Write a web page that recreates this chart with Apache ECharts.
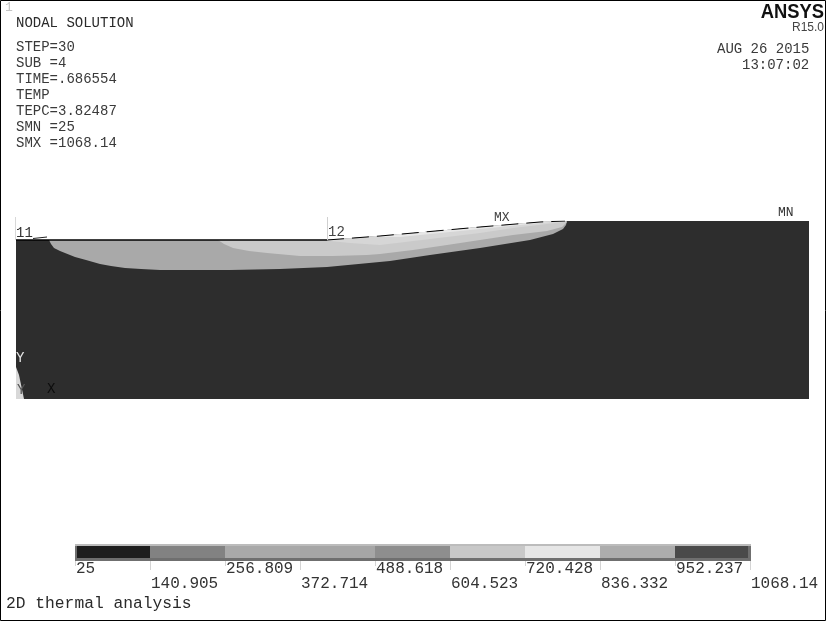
<!DOCTYPE html>
<html><head><meta charset="utf-8">
<style>html,body{margin:0;padding:0;background:#fff}#c{width:826px;height:621px}</style>
<script src="https://cdn.jsdelivr.net/npm/echarts@6/dist/echarts.min.js"></script>
</head><body><div id="c"></div>
<script>
// Model-space outlines of the temperature contour zones (x along the plate, y up from base)
const domainOutline = [[0,159],[311,159],[364,163],[464,172],[524,177],[549,178],[793,178],[793,0],[0,0]];
const zoneLow = [[33,159],[35,155],[38,151],[44,148],[59,142],[70,139],[84,135],[95,133],[109,131],[125,130],[144,129],[180,129],[214,129],[264,130],[311,132],[374,138],[414,144],[464,151],[514,159],[537,165],[547,170],[550,174],[551,178],[549,178],[524,177],[464,172],[364,163],[311,159]];
const zoneMid = [[202,159],[208,155],[217,151],[233,148],[251,146],[284,143],[317,143],[351,144],[364,145],[397,149],[431,154],[464,159],[497,164],[531,168],[546,172],[551,177],[549,178],[524,177],[464,172],[364,163],[311,159]];
const zoneHigh = [[304,159],[334,156],[364,154],[414,160],[464,166],[497,171],[531,175],[549,177],[549,178],[524,177],[464,172],[364,163],[311,159]];
const zoneTop = [[354,162],[384,162],[424,166],[464,170],[504,174],[534,177],[547,178],[524,177],[464,172],[364,163]];
const zoneEdge = [[0,32],[3,24],[8,0],[0,0]];
const flatSurface = [[0,159],[311,159]];
const slopedSurface = [[311,159],[364,163],[464,172],[524,177],[549,178]];
const zones = [domainOutline, zoneLow, zoneMid, zoneHigh, zoneTop, zoneEdge];
const zoneColors = ['#2d2d2d','#a9a9a9','#cacaca','#d6d6d6','#e8e8e8','#d8d8d8'];

const tickValues = [25,140.905,256.809,372.714,488.618,604.523,720.428,836.332,952.237,1068.14];
const tickLabels = ['25','140.905','256.809','372.714','488.618','604.523','720.428','836.332','952.237','1068.14'];
const bandColors = ['#1e1e1e','#828282','#a9a9a9','#a6a6a6','#8e8e8e','#c8c8c8','#e6e6e6','#adadad','#4a4a4a'];

const infoLines = ['STEP=30','SUB =4','TIME=.686554','TEMP','TEPC=3.82487','SMN =25','SMX =1068.14'];

const mono = '"Liberation Mono", monospace';
function txt(x, y, s, o) {
  o = o || {};
  return {type:'text', x, y, silent:true, z:10, scaleX:o.scaleX||1, style:{
    text:s, fill:o.fill||'#2a2a2a', textAlign:o.align||'left', textVerticalAlign:'middle',
    font:(o.weight||'normal')+' '+(o.size||14)+'px '+(o.family||mono)}};
}
const graphics = [
  {type:'rect', z:20, silent:true, shape:{x:0.5,y:0.5,width:825,height:620}, style:{fill:'none',stroke:'#000',lineWidth:1}},
  txt(5,8,'1',{fill:'#c4c4c4',size:13}),
  txt(16,23,'NODAL SOLUTION'),
  ...infoLines.map((s,i)=>txt(16,47+i*16,s,{fill:'#3a3a3a'})),
  txt(824,12,'ANSYS',{align:'right',size:21,weight:'bold',family:'"Liberation Sans", sans-serif',fill:'#111',scaleX:0.875}),
  txt(824,28,'R15.0',{align:'right',size:12,family:'"Liberation Sans", sans-serif',fill:'#444'}),
  txt(717,49,'AUG 26 2015',{fill:'#3a3a3a'}),
  txt(742,65,'13:07:02',{fill:'#3a3a3a'}),
  txt(16,233,'11',{fill:'#333'}),
  txt(328,232,'12',{fill:'#444'}),
  txt(494,218,'MX',{fill:'#444',size:13}),
  txt(778,213,'MN',{fill:'#333',size:13}),
  txt(16,358,'Y',{fill:'#e4e4e4'}),
  txt(17,390,'Y',{fill:'#555'}),
  txt(47,389,'X',{fill:'#0c0c0c'}),
  {type:'line', z:9, silent:true, shape:{x1:33,y1:238.5,x2:47,y2:237}, style:{stroke:'#222',lineWidth:1}},
  {type:'line', z:9, silent:true, shape:{x1:15.5,y1:217,x2:15.5,y2:240}, style:{stroke:'#d8d8d8',lineWidth:1}},
  {type:'line', z:9, silent:true, shape:{x1:327.5,y1:217,x2:327.5,y2:240}, style:{stroke:'#d0d0d0',lineWidth:1}},
  txt(6,604,'2D thermal analysis',{size:16.3,fill:'#2a2a2a'})
];

function renderZone(params, api) {
  const pts = zones[api.value(0)].map(p => api.coord(p));
  return {type:'polygon', shape:{points:pts}, style:{fill:zoneColors[api.value(0)]}};
}
function renderBand(params, api) {
  const i = api.value(0);
  const lo = tickValues[i], hi = tickValues[i+1];
  const a = api.coord([lo,1]), b = api.coord([hi,0]);
  const h = b[1]-a[1];
  const first = i===0, last = i===bandColors.length-1;
  return {type:'group', children:[
    {type:'rect', shape:{x:a[0],y:a[1],width:b[0]-a[0]+1,height:2}, style:{fill:'#bcbcbc'}},
    {type:'rect', shape:{x:a[0],y:a[1]+2,width:b[0]-a[0]+1,height:h-2}, style:{fill:'#6f6f6f'}},
    {type:'rect', shape:{x:a[0]+(first?2:0),y:a[1]+2,width:b[0]-a[0]-(first?2:0)-(last?2:0),height:12}, style:{fill:bandColors[i]}}
  ]};
}
function renderTick(params, api) {
  const i = api.value(0);
  const p = api.coord([tickValues[i],0]);
  const odd = i%2===1;
  return {type:'group', children:[
    {type:'line', shape:{x1:p[0]+0.5,y1:p[1],x2:p[0]+0.5,y2:p[1]+(odd?9:5)}, style:{stroke:'#d4d4d4',lineWidth:1}},
    {type:'text', x:p[0]+1, y:p[1]+(odd?23:7.5), style:{text:tickLabels[i],fill:'#333',textVerticalAlign:'middle',font:'16px '+mono}}
  ]};
}

const chart = echarts.init(document.getElementById('c'), null, {renderer:'canvas'});
chart.setOption({
  animation:false,
  backgroundColor:'#fff',
  tooltip:{show:false},
  grid:[
    {left:16, top:221, width:793, height:178, show:false},
    {left:75, top:544, width:675, height:17, show:false}
  ],
  xAxis:[
    {type:'value', gridIndex:0, min:0, max:793, show:false},
    {type:'value', gridIndex:1, min:25, max:1068.14, show:false}
  ],
  yAxis:[
    {type:'value', gridIndex:0, min:0, max:178, show:false},
    {type:'value', gridIndex:1, min:0, max:1, show:false}
  ],
  graphic:graphics,
  series:[
    {type:'custom', xAxisIndex:0, yAxisIndex:0, coordinateSystem:'cartesian2d', clip:false, silent:true, z:1,
     renderItem:renderZone, data:zones.map((z,i)=>[i]), encode:{x:[],y:[]}},
    {type:'line', xAxisIndex:0, yAxisIndex:0, data:flatSurface, symbol:'none', silent:true, z:3,
     lineStyle:{color:'#000',width:1.5}},
    {type:'line', xAxisIndex:0, yAxisIndex:0, data:slopedSurface, symbol:'none', silent:true, z:3,
     lineStyle:{color:'#000',width:1,type:[17,8]}},
    {type:'custom', xAxisIndex:1, yAxisIndex:1, coordinateSystem:'cartesian2d', clip:false, silent:true, z:2,
     renderItem:renderBand, data:bandColors.map((c,i)=>[i]), encode:{x:[],y:[]}},
    {type:'custom', xAxisIndex:1, yAxisIndex:1, coordinateSystem:'cartesian2d', clip:false, silent:true, z:3,
     renderItem:renderTick, data:tickValues.map((v,i)=>[i]), encode:{x:[],y:[]}}
  ]
});
</script></body></html>
